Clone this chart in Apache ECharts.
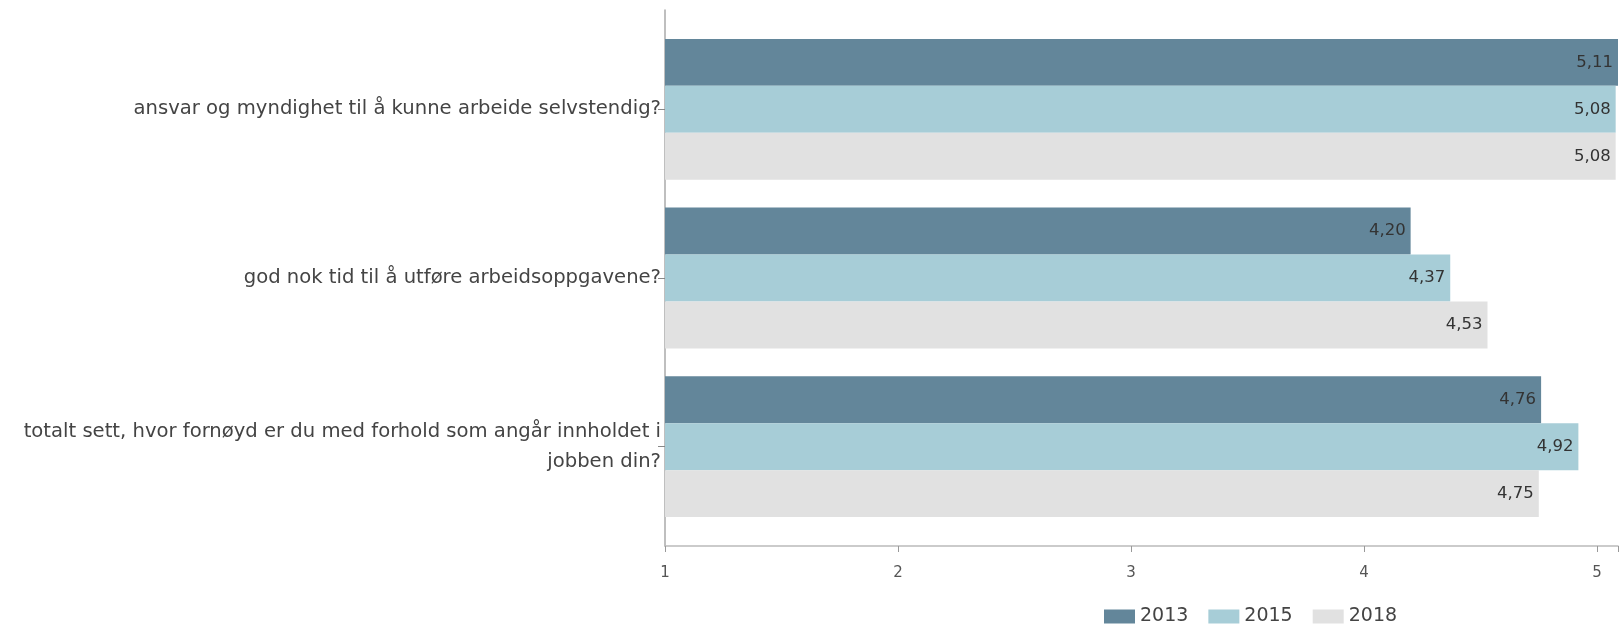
<!DOCTYPE html>
<html>
<head>
<meta charset="utf-8">
<script src="https://cdn.jsdelivr.net/npm/echarts@6/dist/echarts.min.js"></script>
<style>
  html, body { margin: 0; padding: 0; background: #fff; }
  #main { width: 1621px; height: 625px; }
</style>
</head>
<body>
<div id="main"></div>
<script>
// spørsmål (kategorier)
var categories = [
  'ansvar og myndighet til å kunne arbeide selvstendig?',
  'god nok tid til å utføre arbeidsoppgavene?',
  'totalt sett, hvor fornøyd er du med forhold som angår innholdet i\njobben din?'
];
var years = ['2013', '2015', '2018'];
var values2013 = [5.11, 4.20, 4.76];
var values2015 = [5.08, 4.37, 4.92];
var values2018 = [5.08, 4.53, 4.75];
var colors = ['#63869a', '#a7cdd7', '#e1e1e1'];

var myChart = echarts.init(document.getElementById('main'));

function lab(p) {
  return p.value.toFixed(2).replace('.', ',');
}

function bar(name, data, color) {
  return {
    name: name,
    type: 'bar',
    data: data,
    barGap: 0,
    barCategoryGap: '16.5%',
    itemStyle: { color: color },
    label: {
      show: true,
      position: 'insideRight',
      distance: 5,
      formatter: lab,
      color: '#333',
      fontSize: 16.5
    },
    emphasis: { disabled: true }
  };
}

var option = {
  animation: false,
  color: colors,
  textStyle: { fontFamily: 'DejaVu Sans' },
  legend: {
    bottom: -1,
    left: 1104,
    padding: 0,
    itemWidth: 31,
    itemHeight: 14,
    itemGap: 20,
    icon: 'rect',
    textStyle: { color: '#444', fontSize: 19 },
    data: years
  },
  grid: [
    { left: 665, right: 0, top: 25, height: 506 },
    { left: 665, right: 0, top: 10, height: 536 }
  ],
  xAxis: [{
    type: 'value',
    gridIndex: 0,
    min: 1,
    max: 5.09,
    interval: 1,
    offset: 15,
    splitLine: { show: false },
    axisLine: { show: true, lineStyle: { color: '#bbb', width: 1.5 } },
    axisTick: { show: true, length: 6, lineStyle: { color: '#999' } },
    axisLabel: {
      color: '#555',
      fontSize: 15,
      margin: 20,
      formatter: function (v) { return Number.isInteger(v) ? String(v) : ''; }
    }
  }, {
    type: 'value',
    gridIndex: 1,
    show: false
  }],
  yAxis: [{
    type: 'category',
    gridIndex: 0,
    inverse: true,
    data: categories,
    axisLine: { show: false },
    axisTick: { show: true, alignWithLabel: true, length: 7, lineStyle: { color: '#888' } },
    axisLabel: {
      color: '#444',
      fontSize: 19.6,
      margin: 4,
      lineHeight: 30,
      align: 'right'
    }
  }, {
    type: 'value',
    gridIndex: 1,
    axisLine: { show: true, lineStyle: { color: '#aaa', width: 1.5 } },
    axisTick: { show: false },
    axisLabel: { show: false },
    splitLine: { show: false }
  }],
  series: [
    bar(years[0], values2013, colors[0]),
    bar(years[1], values2015, colors[1]),
    bar(years[2], values2018, colors[2])
  ]
};

myChart.setOption(option);
</script>
</body>
</html>
